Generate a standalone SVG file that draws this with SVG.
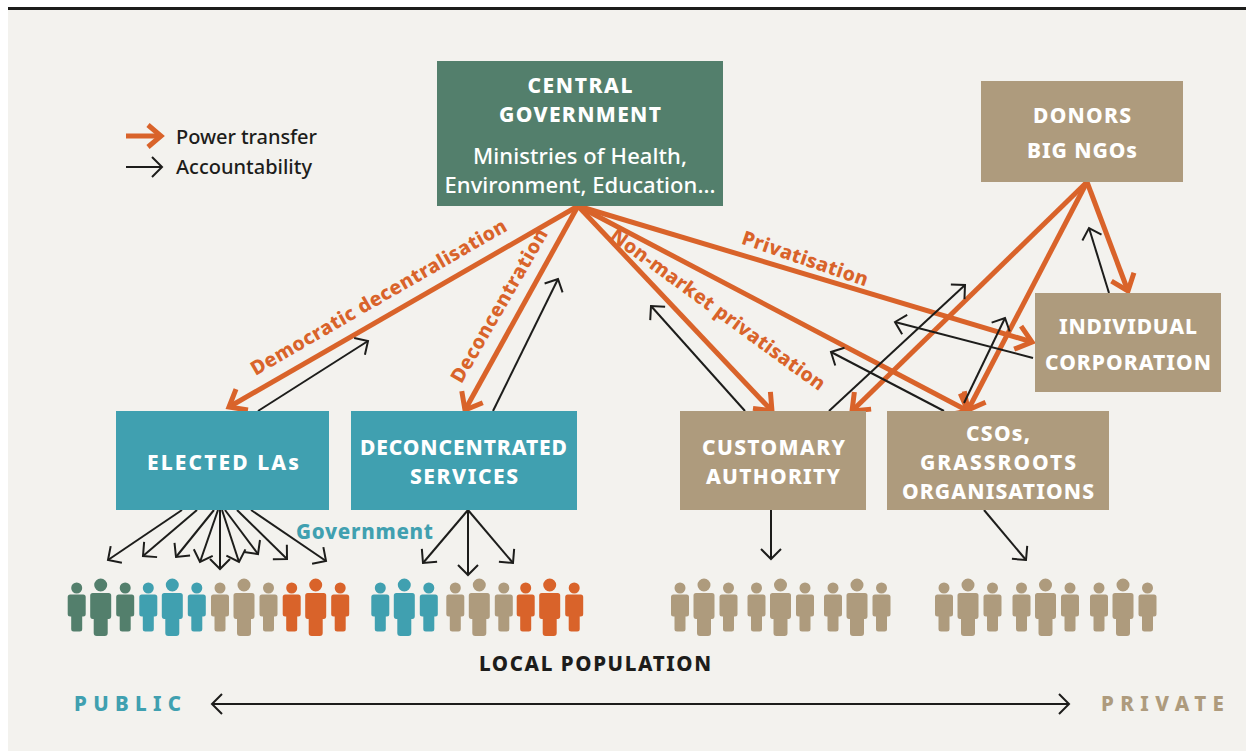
<svg xmlns="http://www.w3.org/2000/svg" width="1246" height="751" viewBox="0 0 1246 751">
<style>
text{font-family:"Noto Sans","Liberation Sans",sans-serif}
.h{font-weight:800;font-size:21px;fill:#fff;text-anchor:middle}
.r{font-weight:500;font-size:22px;fill:#fff;text-anchor:middle}
.o{font-weight:800;font-size:19.500px;fill:#d9632a;text-anchor:middle}
.l{font-weight:500;font-size:20px;fill:#1d1d1b}
.pw{fill:none;stroke:#d9632a;stroke-width:5;marker-end:url(#mo)}
.ac{fill:none;stroke:#1d1d1b;stroke-width:2;marker-end:url(#mk)}
.g{fill:#537f6c}.t{fill:#40a0b0}.b{fill:#ae9b7d}.a{fill:#d9632a}
</style>
<defs>
<marker id="mo" markerUnits="userSpaceOnUse" markerWidth="40" markerHeight="40" refX="20" refY="20" orient="auto" overflow="visible"><path d="M5,8 L20,20 L5,32" fill="none" stroke="#d9632a" stroke-width="5"/></marker>
<marker id="mk" markerUnits="userSpaceOnUse" markerWidth="30" markerHeight="30" refX="15" refY="15" orient="auto-start-reverse" overflow="visible"><path d="M5,5 L15,15 L5,25" fill="none" stroke="#1d1d1b" stroke-width="2"/></marker>
<path id="sm" d="M-6.5,6.5 H6.5 Q9,6.5 9,9 V26 Q9,28.500 6.500,28.500 H5.500 V41 Q5.500,43.500 3,43.500 H-3 Q-5.500,43.500 -5.500,41 V28.500 H-6.500 Q-9,28.500 -9,26 V9 Q-9,6.500 -6.500,6.500 Z M5.500,0 A5.500,5.500 0 1 1 -5.500,0 A5.500,5.500 0 1 1 5.500,0 Z"/>
<path id="lg" d="M-8,0 H8 Q10.500,0 10.500,2.500 V23 Q10.500,26 8,26 H7 V40 Q7,43 4,43 H-4 Q-7,43 -7,40 V26 H-8 Q-10.500,26 -10.500,23 V2.500 Q-10.500,0 -8,0 Z M6.500,-8 A6.500,6.500 0 1 1 -6.500,-8 A6.500,6.500 0 1 1 6.500,-8 Z"/>
<g id="trio"><use href="#sm" x="0" y="588"/><use href="#lg" x="24" y="593"/><use href="#sm" x="48.500" y="588"/></g>
</defs>
<rect width="1246" height="751" fill="#fff"/>
<rect x="8" y="10" width="1238" height="741" fill="#f3f2ee"/>
<rect x="8" y="7" width="1238" height="3" fill="#1d1d1b"/>

<g id="connectors">
<path class="pw" d="M578,206 L229,407"/>
<path class="pw" d="M578,206 L465,410"/>
<path class="pw" d="M578,206 L772,411"/>
<path class="pw" d="M578,206 L968,411"/>
<path class="pw" d="M578,206 L1032,342"/>
<path class="pw" d="M1087,182 L852,411"/>
<path class="pw" d="M1087,182 L968,410"/>
<path class="pw" d="M1087,182 L1128,291"/>
<path class="ac" d="M258,411 L368,341"/>
<path class="ac" d="M493,411 L558,279"/>
<path class="ac" d="M745,411 L651,306"/>
<path class="ac" d="M944,411 L831,352"/>
<path class="ac" d="M829,411 L965,285"/>
<path class="ac" d="M964,403 L1005,318"/>
<path class="ac" d="M1033,358 L895,322"/>
<path class="ac" d="M1109,293 L1089,228"/>
<path class="ac" d="M182,510 L108,560"/>
<path class="ac" d="M197,510 L143,556"/>
<path class="ac" d="M214,510 L176,557"/>
<path class="ac" d="M218,510 L200,562"/>
<path class="ac" d="M220,510 L220,569"/>
<path class="ac" d="M222,510 L239,562"/>
<path class="ac" d="M225,510 L258,554"/>
<path class="ac" d="M237,510 L287,559"/>
<path class="ac" d="M251,510 L326,561"/>
<path class="ac" d="M468,510 L423,563"/>
<path class="ac" d="M468,510 L468,575"/>
<path class="ac" d="M468,510 L513,563"/>
<path class="ac" d="M771,510 L771,559"/>
<path class="ac" d="M984,510 L1026,560"/>
<path class="ac" style="marker-start:url(#mk)" d="M212,704 L1069,704"/>
</g>

<g id="central-government"><rect class="g" x="437" y="61" width="286" height="145"/>
<text class="h" x="580" y="93" textLength="105">CENTRAL</text><text class="h" x="580" y="122" textLength="162">GOVERNMENT</text>
<text class="r" x="580" y="164" textLength="214">Ministries of Health,</text><text class="r" x="580" y="193" textLength="271">Environment, Education...</text></g>
<g id="donors"><rect class="b" x="981" y="81" width="202" height="101"/>
<text class="h" x="1082" y="123" textLength="98">DONORS</text><text class="h" x="1082" y="158" textLength="110">BIG NGOs</text></g>
<g id="individual"><rect class="b" x="1035" y="293" width="186" height="99"/>
<text class="h" x="1128" y="334" textLength="138">INDIVIDUAL</text><text class="h" x="1128" y="370" textLength="166">CORPORATION</text></g>
<g id="elected"><rect class="t" x="116" y="411" width="213" height="99"/>
<text class="h" x="223" y="470" textLength="152">ELECTED LAs</text></g>
<g id="deconcentrated"><rect class="t" x="351" y="411" width="226" height="99"/>
<text class="h" x="463.500" y="455" textLength="207">DECONCENTRATED</text><text class="h" x="464" y="484" textLength="108">SERVICES</text></g>
<g id="customary"><rect class="b" x="680" y="411" width="186" height="99"/>
<text class="h" x="773.500" y="455" textLength="143">CUSTOMARY</text><text class="h" x="773" y="484" textLength="134">AUTHORITY</text></g>
<g id="csos"><rect class="b" x="887" y="411" width="222" height="99"/>
<text class="h" x="998" y="441" textLength="64">CSOs,</text><text class="h" x="998" y="470" textLength="156">GRASSROOTS</text><text class="h" x="998" y="499" textLength="192">ORGANISATIONS</text></g>

<g id="edge-labels">
<text class="o" transform="translate(382,303) rotate(-30)" textLength="292">Democratic decentralisation</text>
<text class="o" transform="translate(505,309) rotate(-60)" textLength="174">Deconcentration</text>
<text class="o" transform="translate(714,315) rotate(36)" textLength="260">Non-market privatisation</text>
<text class="o" transform="translate(803,265) rotate(19)" textLength="132">Privatisation</text>
</g>

<g id="legend">
<path d="M126,136 H160" stroke="#d9632a" stroke-width="5" fill="none"/><path d="M148,125 L161,136 L148,147" stroke="#d9632a" stroke-width="5" fill="none"/>
<path d="M126,167 H162" stroke="#1d1d1b" stroke-width="2" fill="none"/><path d="M152,157 L162,167 L152,177" stroke="#1d1d1b" stroke-width="2" fill="none"/>
<text class="l" x="176" y="144" textLength="141">Power transfer</text><text class="l" x="176" y="174" textLength="136">Accountability</text>
</g>

<g id="population">
<use href="#trio" class="g" x="76.700"/><use href="#trio" class="t" x="148.300"/><use href="#trio" class="b" x="220"/><use href="#trio" class="a" x="291.700"/>
<use href="#trio" class="t" x="380.300"/><use href="#trio" class="b" x="455.300"/><use href="#trio" class="a" x="525.700"/>
<use href="#trio" class="b" x="680"/><use href="#trio" class="b" x="756.500"/><use href="#trio" class="b" x="833"/>
<use href="#trio" class="b" x="944"/><use href="#trio" class="b" x="1021.500"/><use href="#trio" class="b" x="1099"/>
</g>

<text x="296" y="539" font-weight="800" font-size="20.500" fill="#40a0b0" textLength="137">Government</text>
<text x="595" y="671" font-weight="800" font-size="20.500" fill="#1d1d1b" text-anchor="middle" textLength="232">LOCAL POPULATION</text>
<text x="74" y="711" font-weight="800" font-size="20.500" fill="#40a0b0" textLength="107">PUBLIC</text>
<text x="1101" y="711" font-weight="800" font-size="20.500" fill="#ae9b7d" textLength="123">PRIVATE</text>
</svg>
